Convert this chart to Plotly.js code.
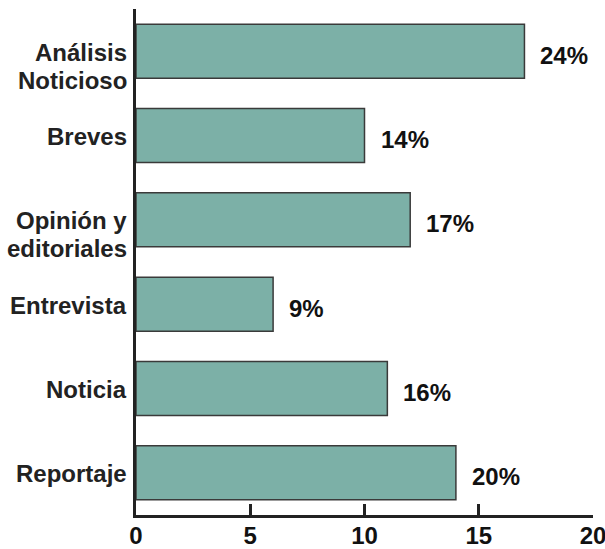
<!DOCTYPE html>
<html><head><meta charset="utf-8">
<script src="https://cdn.plot.ly/plotly-3.0.1.min.js"></script>
<style>html,body{margin:0;padding:0;background:#fff}#c{width:605px;height:549px}</style>
</head><body><div id="c"></div>
<script>
const categories = ["Análisis<br>Noticioso", "Breves", "Opinión y<br>editoriales", "Entrevista", "Noticia", "Reportaje"];
const values = [17, 10, 12, 6, 11, 14];
const percentLabels = ["24%", "14%", "17%", "9%", "16%", "20%"];
const xTicks = [0, 5, 10, 15, 20];

const FONT = "Liberation Sans, Arial, sans-serif";

const trace = {
  type: "bar", orientation: "h",
  x: values, y: categories,
  width: 0.64,
  marker: {color: "#7cb0a7", line: {color: "#3a3a3a", width: 1.5}},
  hoverinfo: "skip"
};

const annotations = [];
categories.forEach((c, i) => {
  annotations.push({
    x: values[i], y: c, xref: "x", yref: "y",
    text: percentLabels[i], showarrow: false,
    xanchor: "left", yanchor: "middle", xshift: 14, yshift: -4,
    font: {family: FONT, size: 24, color: "#111", weight: "bold"}
  });
  c.split("<br>").forEach((line, j) => {
    annotations.push({
      x: 0, y: c, xref: "paper", yref: "y",
      text: line, showarrow: false,
      xanchor: "right", yanchor: "middle", xshift: -7, yshift: -1 - j * 28,
      font: {family: FONT, size: 24, color: "#222", weight: "bold"}
    });
  });
});

const layout = {
  width: 605, height: 549,
  margin: {l: 136, r: 12, t: 9, b: 34, pad: 0},
  paper_bgcolor: "#fff", plot_bgcolor: "#fff",
  showlegend: false,
  xaxis: {
    range: [0, 20], tickvals: xTicks, ticktext: xTicks.map(String),
    showgrid: false, zeroline: false,
    showline: true, linecolor: "#222", linewidth: 3,
    ticks: "inside", ticklen: 11, tickwidth: 3, tickcolor: "#222",
    ticklabeloverflow: "allow", ticklabelstandoff: -3,
    tickfont: {family: FONT, size: 24, color: "#111", weight: "bold"},
    fixedrange: true
  },
  yaxis: {
    type: "category", range: [5.5, -0.5],
    showgrid: false, zeroline: false,
    showline: true, linecolor: "#222", linewidth: 3,
    ticks: "", showticklabels: false,
    fixedrange: true
  },
  annotations: annotations
};

Plotly.newPlot("c", [trace], layout, {displayModeBar: false, staticPlot: true});
</script>
</body></html>
